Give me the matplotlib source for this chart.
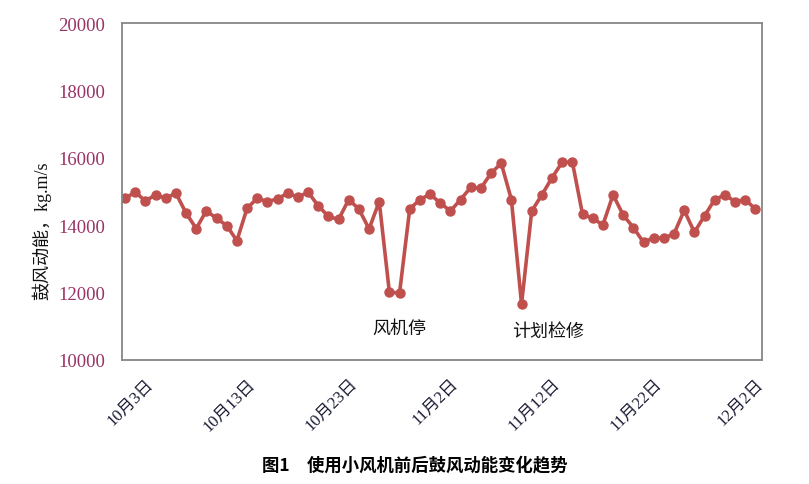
import matplotlib.pyplot as plt
import matplotlib as mpl
import numpy as np

mpl.rcParams['font.family'] = ['Liberation Serif', 'Noto Sans CJK SC']

# 鼓风动能, 10月1日 ~ 12月2日, 每天一个点
values = [14800, 14980, 14720, 14900, 14800, 14950, 14360, 13900, 14430, 14200,
          13990, 13540, 14500, 14800, 14700, 14780, 14950, 14830, 14980, 14580,
          14260, 14170, 14760, 14480, 13890, 14700, 12010, 11990, 14480, 14760,
          14920, 14660, 14420, 14760, 15120, 15100, 15540, 15840, 14760, 11660,
          14420, 14900, 15410, 15870, 15870, 14320, 14200, 14010, 14900, 14300,
          13930, 13490, 13630, 13610, 13750, 14440, 13790, 14280, 14760, 14900,
          14700, 14760, 14480]

tick_pos = [2, 12, 22, 32, 42, 52, 62]
tick_labels = ['10月3日', '10月13日', '10月23日', '11月2日', '11月12日', '11月22日', '12月2日']

notes = ['风机停', '计划检修']
note_pos = [(27.0, 10950), (41.6, 10850)]

fig = plt.figure(figsize=(8.09, 4.85), dpi=100)
ax = fig.add_axes([0.1508, 0.2557, 0.7911, 0.6948])

x = np.arange(len(values))
ax.plot(x, values, color='#C0504D', lw=2.6, marker='o', ms=6.5, mec='#C0504D', mfc='#C0504D')

ax.set_xlim(-0.3, 62.65)
ax.set_ylim(10000, 20000)
ax.set_yticks(range(10000, 20001, 2000))
ax.tick_params(axis='y', length=0, pad=12, labelsize=13.5, labelcolor='#993366')
ax.set_xticks(tick_pos)
ax.set_xticklabels(tick_labels, rotation=45, ha='right', va='top', rotation_mode='anchor')
ax.tick_params(axis='x', length=0, pad=11, labelsize=12, labelcolor='#1a1a33')

for s in ax.spines.values():
    s.set_color('#868686')
    s.set_linewidth(1.3)

for t, (px, py) in zip(notes, note_pos):
    ax.text(px, py, t, fontsize=13, ha='center', va='center', color='#111111',
            family=['Noto Sans CJK SC'])

fig.text(42 / 809, 1 - 231 / 485, '鼓风动能，kg.m/s', rotation=90, ha='center', va='center',
         fontsize=13, color='#111111')
fig.text(415 / 809, 1 - 465 / 485, '图1　使用小风机前后鼓风动能变化趋势', ha='center', va='center',
         fontsize=12.5, fontweight='bold', family=['Noto Sans CJK SC'])

fig.savefig('out.png', dpi=100)
